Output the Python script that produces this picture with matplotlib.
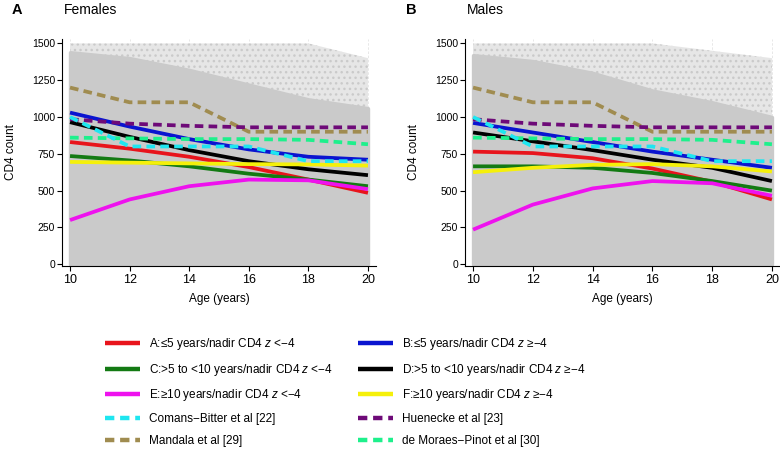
import numpy as np
import matplotlib.pyplot as plt
from matplotlib.lines import Line2D

plt.rcParams['font.family'] = ['Liberation Sans', 'DejaVu Sans']
plt.rcParams['mathtext.fontset'] = 'custom'
plt.rcParams['mathtext.rm'] = 'Liberation Sans'
plt.rcParams['mathtext.it'] = 'Liberation Sans:italic'
plt.rcParams['hatch.linewidth'] = 1.0

ages = [10, 12, 14, 16, 18, 20]

# cohort curves, females
fem_A = [830, 785, 730, 660, 575, 485]
fem_B = [1030, 935, 850, 780, 730, 710]
fem_C = [735, 705, 665, 615, 575, 530]
fem_D = [965, 865, 775, 700, 645, 605]
fem_E = [300, 440, 530, 575, 570, 510]
fem_F = [695, 690, 685, 680, 678, 670]

# cohort curves, males
mal_A = [765, 755, 720, 650, 560, 440]
mal_B = [960, 895, 830, 765, 710, 655]
mal_C = [665, 665, 655, 620, 565, 500]
mal_D = [895, 835, 775, 710, 655, 565]
mal_E = [235, 405, 515, 565, 550, 465]
mal_F = [625, 655, 675, 680, 665, 630]

# published reference medians (same in both panels)
comans = [1000, 800, 800, 800, 700, 700]
huenecke = [985, 955, 940, 930, 930, 930]
mandala = [1200, 1100, 1100, 900, 900, 900]
moraes = [860, 855, 850, 850, 845, 815]

# rough envelope of the grey cloud of individual CD4 counts
cloud_dense_f = [1440, 1400, 1320, 1220, 1120, 1060]
cloud_dense_m = [1420, 1380, 1300, 1180, 1100, 1000]
cloud_top_f = [1500, 1500, 1500, 1500, 1500, 1400]
cloud_top_m = [1500, 1500, 1500, 1500, 1450, 1400]

labels = {
    'A': 'A:≤5 years/nadir CD4 $z$ <−4',
    'B': 'B:≤5 years/nadir CD4 $z$ ≥−4',
    'C': 'C:>5 to <10 years/nadir CD4 $z$ <−4',
    'D': 'D:>5 to <10 years/nadir CD4 $z$ ≥−4',
    'E': 'E:≥10 years/nadir CD4 $z$ <−4',
    'F': 'F:≥10 years/nadir CD4 $z$ ≥−4',
    'comans': 'Comans−Bitter et al [22]',
    'huenecke': 'Huenecke et al [23]',
    'mandala': 'Mandala et al [29]',
    'moraes': 'de Moraes−Pinot et al [30]',
}
colors = {'A': '#e8141c', 'B': '#0a14d0', 'C': '#137a13', 'D': '#000000',
          'E': '#ee12ee', 'F': '#f5f00a', 'comans': '#1ee6f0',
          'huenecke': '#6e0a78', 'mandala': '#a08c50', 'moraes': '#1ef08c'}
dash = (0, (2.3, 1.4))
grey = '#cacaca'


def panel(ax, cohorts, dense, top):
    ax.fill_between(ages, dense, top, facecolor='#e6e6e6', edgecolor=grey,
                    hatch='...', lw=0, zorder=1)
    ax.fill_between(ages, 0, dense, color=grey, lw=2.5, zorder=1.2)
    for key in ['A', 'C', 'E', 'B', 'D', 'F']:
        ax.plot(ages, cohorts[key], color=colors[key], lw=2.7, zorder=3,
                solid_capstyle='butt')
    for key, vals in [('mandala', mandala), ('huenecke', huenecke),
                      ('moraes', moraes), ('comans', comans)]:
        ax.plot(ages, vals, color=colors[key], lw=2.7, ls=dash, zorder=4,
                dash_capstyle='butt')
    ax.set_xlim(9.73, 20.27)
    ax.set_ylim(-12, 1530)
    ax.set_xticks([10, 12, 14, 16, 18, 20])
    ax.set_yticks([0, 250, 500, 750, 1000, 1250, 1500])
    ax.tick_params(axis='x', labelsize=9, length=3.5, width=0.8, pad=2)
    ax.tick_params(axis='y', labelsize=7.5, length=3.5, width=0.8, pad=1.5)
    ax.spines['top'].set_visible(False)
    ax.spines['right'].set_visible(False)
    ax.spines['left'].set_linewidth(0.8)
    ax.spines['bottom'].set_linewidth(0.8)
    ax.grid(axis='x', color='#e4e4e4', lw=0.6, ls=(0, (3, 2)), zorder=0)
    ax.set_axisbelow(True)
    ax.set_xlabel('Age (years)', fontsize=8.5, labelpad=5)
    ax.set_ylabel('CD4 count', fontsize=8.5, labelpad=11)


fig = plt.figure(figsize=(7.8, 4.51), dpi=100)
axA = fig.add_axes([62 / 780, 185 / 451, 314 / 780, 227 / 451])
axB = fig.add_axes([465 / 780, 185 / 451, 315 / 780, 227 / 451])

panel(axA, dict(A=fem_A, B=fem_B, C=fem_C, D=fem_D, E=fem_E, F=fem_F),
      cloud_dense_f, cloud_top_f)
panel(axB, dict(A=mal_A, B=mal_B, C=mal_C, D=mal_D, E=mal_E, F=mal_F),
      cloud_dense_m, cloud_top_m)

fig.text(12 / 780, 1 - 10 / 451, 'A', fontsize=10.5, fontweight='bold', va='center')
fig.text(64 / 780, 1 - 10 / 451, 'Females', fontsize=10, va='center')
fig.text(406 / 780, 1 - 10 / 451, 'B', fontsize=10.5, fontweight='bold', va='center')
fig.text(467 / 780, 1 - 10 / 451, 'Males', fontsize=10, va='center')


def handle(key):
    if key in ['A', 'B', 'C', 'D', 'E', 'F']:
        return Line2D([], [], color=colors[key], lw=3.2, solid_capstyle='butt')
    return Line2D([], [], color=colors[key], lw=3.2, ls=(0, (2.1, 1.3)),
                  dash_capstyle='butt')


col1 = ['A', 'C', 'E', 'comans', 'mandala']
col2 = ['B', 'D', 'F', 'huenecke', 'moraes']
for keys, x0 in [(col1, 105), (col2, 358)]:
    fig.legend([handle(k) for k in keys], [labels[k] for k in keys],
               loc='upper left', bbox_to_anchor=(x0 / 780, 1 - 336 / 451),
               frameon=False, fontsize=8.5, handlelength=2.95,
               handletextpad=0.75, labelspacing=0.82, borderpad=0,
               borderaxespad=0)

fig.savefig('out.png', dpi=100)
